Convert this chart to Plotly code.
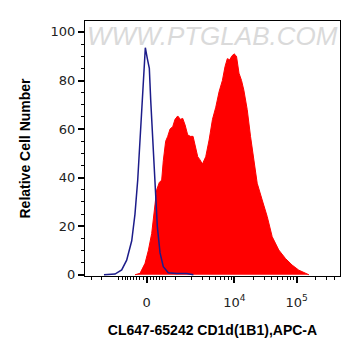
import numpy as np
import plotly.graph_objects as go

# ---- data (x: display channel in decades of the biexponential axis; y: relative count) ----
ctrl_x = [-0.685, -0.508, -0.401, -0.321, -0.240, -0.188, -0.144, -0.107, -0.064, -0.038,
          -0.022, 0.010, 0.042, 0.064, 0.096, 0.133, 0.170, 0.214, 0.266, 0.346, 0.481,
          0.641, 0.748]
ctrl_y = [0.0, 0.3, 2.0, 6.0, 14.0, 25.0, 39.0, 55.0, 75.0, 90.0, 93.5, 89.0, 85.0, 72.0,
          55.0, 36.0, 20.0, 9.0, 3.3, 0.8, 0.5, 0.5, 0.0]

samp_x = [-0.188, -0.107, -0.027, 0.026, 0.080, 0.117, 0.160, 0.202, 0.240, 0.266, 0.304,
          0.337, 0.374, 0.417, 0.454, 0.497, 0.540, 0.577, 0.615, 0.657, 0.700, 0.743,
          0.780, 0.818, 0.850, 0.893, 0.946, 1.000, 1.054, 1.107, 1.160, 1.213, 1.255,
          1.292, 1.330, 1.362, 1.400, 1.439, 1.479, 1.520, 1.557, 1.611, 1.664, 1.717,
          1.771, 1.851, 1.931, 2.011, 2.117, 2.224, 2.331, 2.438, 2.540, 2.600]
samp_y = [0.0, 0.6, 4.7, 10.0, 17.0, 25.0, 35.0, 38.0, 39.0, 47.0, 55.0, 57.0, 60.0, 61.0,
          64.0, 65.4, 64.0, 64.4, 61.7, 57.6, 57.0, 57.0, 52.7, 48.6, 47.5, 45.6, 48.6,
          55.5, 64.0, 69.0, 75.4, 80.0, 85.7, 89.0, 88.5, 90.0, 91.0, 90.0, 83.0, 80.0,
          76.0, 68.0, 57.0, 47.0, 37.7, 30.8, 24.0, 15.7, 10.2, 6.7, 4.0, 1.9, 0.6, 0.0]

# tick values in raw fluorescence units
major_vals = [0, 1e4, 1e5]
major_text = ["0", "10<sup>4</sup>", "10<sup>5</sup>"]
minor_vals = ([-3000, -2000, -1000] + list(range(-800, 700, 100)) +
              list(range(1000, 10000, 1000)) + list(range(20000, 100000, 10000)) +
              list(range(200000, 500001, 100000)))
y_ticks = [0, 20, 40, 60, 80, 100]

W = 790.0


def biex(v):
    return np.arcsinh(np.asarray(v, dtype=float) / W) / np.log(10)


fig = go.Figure()
fig.add_trace(go.Scatter(x=samp_x, y=samp_y, mode="lines", fill="tozeroy",
                         line=dict(color="#ff0000", width=1), fillcolor="#ff0000",
                         hoverinfo="skip", showlegend=False))
fig.add_trace(go.Scatter(x=ctrl_x, y=ctrl_y, mode="lines",
                         line=dict(color="#1c1c8a", width=1.5),
                         hoverinfo="skip", showlegend=False))

font = "Liberation Sans, Arial, sans-serif"
tickfont = dict(family="DejaVu Sans, sans-serif", size=13, color="#222222")
# page body has an 8px default margin, so the figure is sized/offset to compensate
fig.update_layout(
    width=353, height=348,
    margin=dict(l=77, r=21, t=13, b=80),
    paper_bgcolor="white", plot_bgcolor="white",
    font=dict(family=font, color="#222222", size=13),
    xaxis=dict(
        range=[-0.989, 3.098], showgrid=False, zeroline=False, automargin=False,
        showline=True, mirror=True, linecolor="black", linewidth=1,
        tickmode="array", tickvals=list(biex(major_vals)), ticktext=major_text,
        ticks="outside", ticklen=6, tickwidth=1.5, tickcolor="black",
        ticklabelstandoff=8, tickfont=tickfont,
        minor=dict(tickmode="array", tickvals=list(biex(minor_vals)), ticks="outside",
                   ticklen=3, tickwidth=1, tickcolor="black", showgrid=False),
        title=dict(text="<b>CL647-65242 CD1d(1B1),APC-A</b>",
                   font=dict(family=font, size=14, color="black"), standoff=16),
    ),
    yaxis=dict(
        range=[-0.5, 104.5], showgrid=False, zeroline=False, automargin=False,
        showline=True, mirror=True, linecolor="black", linewidth=1,
        tickmode="array", tickvals=y_ticks,
        ticks="outside", ticklen=6, tickwidth=1.5, tickcolor="black",
        tickfont=tickfont,
        minor=dict(dtick=5, ticks="outside", ticklen=3, tickwidth=1,
                   tickcolor="black", showgrid=False),
        title=dict(text="<b>Relative Cell Number</b>",
                   font=dict(family=font, size=14, color="black"), standoff=16),
    ),
)
fig.add_annotation(text="WWW.PTGLAB.COM", xref="paper", yref="paper",
                   x=0.5, y=1.0, xanchor="center", yanchor="top", showarrow=False,
                   yshift=2,
                   font=dict(family=font, size=26, color="#dadada", style="italic"))

fig.write_html("out.html")
